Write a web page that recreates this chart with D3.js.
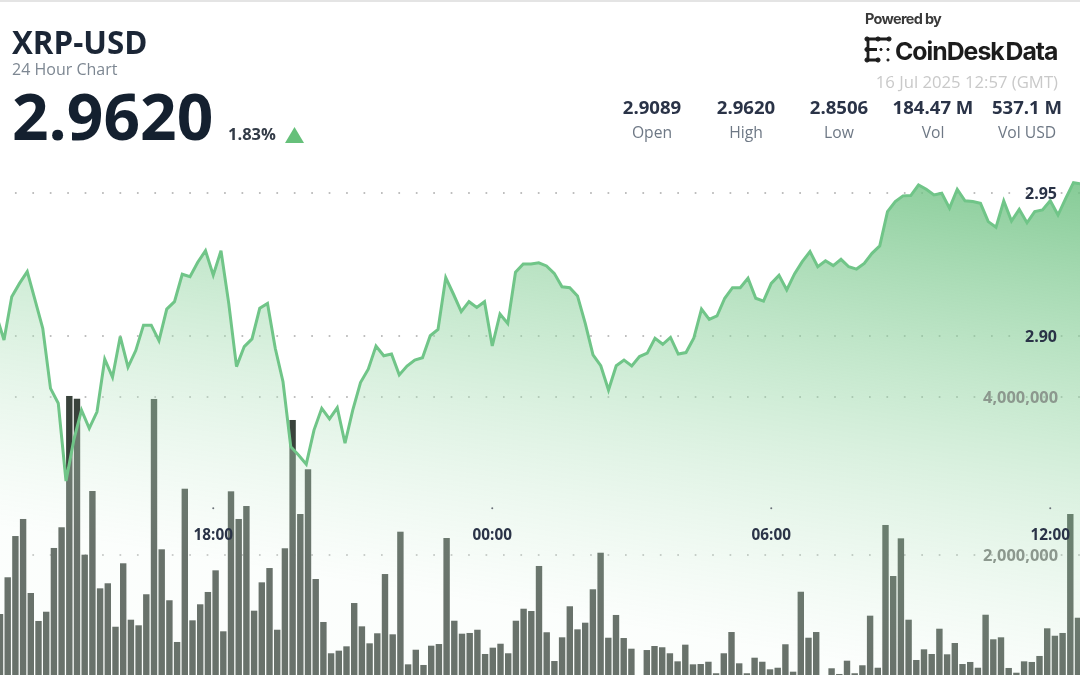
<!DOCTYPE html>
<html><head><meta charset="utf-8">
<script src="https://cdn.jsdelivr.net/npm/d3@7/dist/d3.min.js"></script>
<style>
html,body{margin:0;padding:0;background:#fff;overflow:hidden}
svg{display:block;filter:blur(0.55px)}
text{font-family:"Open Sans",sans-serif}
</style></head><body>
<svg id="c" width="1080" height="675"></svg>
<script>
const prices=[2.9073,2.8986,2.9137,2.9184,2.9225,2.9126,2.9027,2.8817,2.8765,2.8493,2.8636,2.8741,2.8677,2.8735,2.8919,2.8856,2.8998,2.8891,2.8949,2.9038,2.9038,2.8984,2.9094,2.9120,2.9216,2.9207,2.9258,2.9298,2.9213,2.9298,2.9114,2.8893,2.8963,2.8990,2.9097,2.9114,2.8957,2.8840,2.8613,2.8584,2.8552,2.8671,2.8747,2.8710,2.8749,2.8625,2.8741,2.8837,2.8884,2.8965,2.8931,2.8937,2.8864,2.8895,2.8916,2.8924,2.9001,2.9023,2.9204,2.9146,2.9085,2.9120,2.9100,2.9120,2.8965,2.9077,2.9044,2.9223,2.9252,2.9252,2.9256,2.9245,2.9219,2.9172,2.9169,2.9140,2.9044,2.8934,2.8896,2.8811,2.8896,2.8916,2.8895,2.8928,2.8940,2.8992,2.8971,2.8995,2.8937,2.8942,2.8992,2.9094,2.9058,2.9070,2.9132,2.9169,2.9169,2.9202,2.9132,2.9122,2.9184,2.9212,2.9161,2.9217,2.9260,2.9295,2.9242,2.9263,2.9246,2.9268,2.9242,2.9234,2.9254,2.9289,2.9315,2.9435,2.9470,2.9490,2.9491,2.9528,2.9513,2.9493,2.9499,2.9447,2.9513,2.9473,2.9470,2.9464,2.9400,2.9380,2.9472,2.9402,2.9443,2.9396,2.9435,2.9441,2.9473,2.9423,2.9481,2.9536,2.9532];
const volumes=[1.253,1.718,2.240,2.456,1.519,1.165,1.282,2.089,2.351,4.013,3.978,2.004,2.810,1.578,1.642,1.092,1.895,1.181,1.110,1.503,3.975,2.072,1.427,0.899,2.839,1.173,1.376,1.532,1.806,1.034,2.806,2.456,2.620,1.295,1.654,1.835,1.054,2.085,3.709,2.519,3.085,1.696,1.152,0.756,0.789,0.844,1.392,1.097,0.882,1.009,1.759,0.996,2.295,0.616,0.801,0.608,0.852,0.873,2.215,1.168,1.004,1.013,1.054,0.747,0.827,0.877,0.756,1.168,1.320,1.291,1.861,1.022,0.658,0.958,1.351,1.059,1.143,1.566,2.029,0.953,1.241,0.949,0.814,0.45,0.797,0.848,0.832,0.756,0.654,0.865,0.616,0.620,0.649,0.503,0.756,1.025,0.629,0.503,0.700,0.649,0.553,0.573,0.870,0.523,1.535,0.953,1.025,0.4,0.566,0.494,0.662,0.503,0.604,1.232,0.573,2.380,1.734,2.211,1.181,0.671,0.806,0.747,1.067,0.743,0.886,0.620,0.646,0.573,1.244,0.933,0.958,0.570,0.510,0.654,0.646,0.722,1.072,0.978,1.013,2.519,1.206];
const timeLabels=["18:00","00:00","06:00","12:00"];
const timeIndex=[28,64,100,136];
const priceTicks=[2.95,2.90];
const volumeTicks=[4,2];
const statValues=["2.9089","2.9620","2.8506","184.47 M","537.1 M"];
const statNames=["Open","High","Low","Vol","Vol USD"];
const statCentres=[652,746,839,933,1027];

const svg=d3.select("#c");
const W=1080,H=675;
const xLine=d3.scaleLinear().domain([0,140]).range([-3.75,1081.25]);
const xBar=d3.scaleLinear().domain([0,140]).range([0,1078]);
const yPrice=d3.scaleLinear().domain([2.90,2.95]).range([336,193]);
const yVol=d3.scaleLinear().domain([0,4]).range([713,397]);

const defs=svg.append("defs");
const g=defs.append("linearGradient").attr("id","area").attr("gradientUnits","userSpaceOnUse")
 .attr("x1",1050).attr("y1",178).attr("x2",970).attr("y2",680);
g.append("stop").attr("offset",0).attr("stop-color","rgb(108,192,128)").attr("stop-opacity",.82);
g.append("stop").attr("offset",.5).attr("stop-color","rgb(150,214,165)").attr("stop-opacity",.46);
g.append("stop").attr("offset",1).attr("stop-color","rgb(240,250,243)").attr("stop-opacity",.26);

svg.append("rect").attr("width",W).attr("height",2).attr("fill","#e4e4e4");

const grid=[...priceTicks.map(yPrice),...volumeTicks.map(yVol)];
svg.append("g").selectAll("line").data(grid).join("line")
 .attr("x1",-2.5).attr("x2",W).attr("y1",d=>d).attr("y2",d=>d)
 .attr("stroke","#a9a9a9").attr("stroke-width",1.6).attr("stroke-dasharray","1.7 15.73");

svg.append("g").selectAll("rect").data(volumes).join("rect")
 .attr("x",(d,i)=>xBar(i)-3.2).attr("width",6.4)
 .attr("y",d=>yVol(d)).attr("height",d=>yVol(0)-yVol(d))
 .attr("fill","#39423b");

const area=d3.area().x((d,i)=>xLine(i)).y0(H+5).y1(d=>yPrice(d));
const line=d3.line().x((d,i)=>xLine(i)).y(d=>yPrice(d));
svg.append("path").datum(prices).attr("d",area).attr("fill","url(#area)");
svg.append("path").datum(prices).attr("d",line).attr("fill","none")
 .attr("stroke","#70c588").attr("stroke-width",3).attr("stroke-linejoin","miter");

const ax=svg.append("g");
ax.selectAll("circle").data(timeIndex).join("circle")
 .attr("cx",d=>xLine(d)).attr("cy",508.3).attr("r",1).attr("fill","#6a7178");
ax.selectAll("text").data(timeLabels).join("text")
 .attr("x",(d,i)=>xLine(timeIndex[i])).attr("y",540).attr("text-anchor","middle")
 .attr("font-size",15.3).attr("font-weight",700).attr("fill","#2a3347").text(d=>d);

svg.append("g").selectAll("text").data(priceTicks).join("text")
 .attr("x",1057).attr("y",d=>yPrice(d)+5.5).attr("text-anchor","end")
 .attr("font-size",16).attr("font-weight",700).attr("fill","#2a3347").text(d=>d.toFixed(2));
svg.append("g").selectAll("text").data(volumeTicks).join("text")
 .attr("x",1058).attr("y",d=>yVol(d)+5.5).attr("text-anchor","end")
 .attr("font-size",16.4).attr("font-weight",700).attr("fill","#8c988e").text(d=>d3.format(",")(d*1e6));

const T=(x,y,s,size,w,fill,anchor)=>svg.append("text").attr("x",x).attr("y",y).attr("font-size",size)
 .attr("font-weight",w).attr("fill",fill).attr("text-anchor",anchor||"start").text(s);
T(12,54,"XRP-USD",31.3,700,"#1b2636");
T(12,74.5,"24 Hour Chart",16,400,"#7d8792");
T(12,140,"2.9620",64,700,"#14202f");
T(228,139.5,"1.83%",16.5,700,"#333b47");
svg.append("path").attr("d",d3.line()([[285,143],[294.5,127],[304,143]])+"Z").attr("fill","#66c07a");

svg.append("g").selectAll("text").data(statValues).join("text")
 .attr("x",(d,i)=>statCentres[i]).attr("y",114).attr("text-anchor","middle")
 .attr("font-size",18.6).attr("font-weight",700).attr("fill","#2a3347").text(d=>d);
svg.append("g").selectAll("text").data(statNames).join("text")
 .attr("x",(d,i)=>statCentres[i]).attr("y",138).attr("text-anchor","middle")
 .attr("font-size",15.7).attr("font-weight",400).attr("fill","#6e7885").text(d=>d);

T(865,23.5,"Powered by",14.5,700,"#3a3a3a").style("font-family","Inter").style("letter-spacing","-0.7px");
T(895,60,"CoinDesk Data",24.8,700,"#1c1c1c").style("font-family","Inter").style("letter-spacing","-1px").style("word-spacing","-3px");
T(1058,87.5,"16 Jul 2025 12:57 (GMT)",16.7,400,"#c9c9c9","end");
const logo=svg.append("g").attr("fill","#1c1c1c").attr("stroke","#1c1c1c");
logo.append("path").attr("fill","none").attr("stroke-width",2.8)
 .attr("d","M889,39H868V60H879M868,49.5H877");
[[867,39],[878,39],[889,39],[867,49.5],[867,60],[878,60]].forEach(p=>logo.append("circle").attr("cx",p[0]).attr("cy",p[1]).attr("r",2.1));
[[888,49.5],[888,60],[881,49.5]].forEach(p=>logo.append("circle").attr("cx",p[0]).attr("cy",p[1]).attr("r",1.1));
</script>
</body></html>
